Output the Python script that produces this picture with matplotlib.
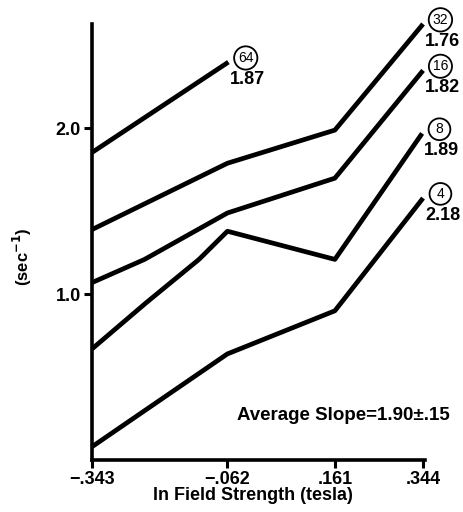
import matplotlib
matplotlib.use("Agg")
import matplotlib.pyplot as plt

plt.rcParams["font.family"] = ["Liberation Sans", "DejaVu Sans"]
plt.rcParams["font.weight"] = "bold"

# x positions (ln field strength, tesla)
x_ticks = [-.343, -.062, .161, .344]
x_tick_labels = ["\u2212.343", "\u2212.062", ".161", ".344"]
y_ticks = [1.0, 2.0]
y_tick_labels = ["1.0", "2.0"]

# one curve per label
x_64 = [-.343, -.060]
y_64 = [1.855, 2.40]
x_32 = [-.343, -.062, .161, .344]
y_32 = [1.39, 1.79, 1.99, 2.63]
x_16 = [-.343, -.234, -.062, .161, .344]
y_16 = [1.07, 1.21, 1.49, 1.70, 2.35]
x_8 = [-.343, -.230, -.121, -.062, .161, .342]
y_8 = [0.67, 0.95, 1.21, 1.38, 1.21, 1.97]
x_4 = [-.343, -.062, .161, .344]
y_4 = [0.08, 0.64, 0.90, 1.58]

circle_labels = ["64", "32", "16", "8", "4"]
slope_labels = ["1.87", "1.76", "1.82", "1.89", "2.18"]
series = [(x_64, y_64), (x_32, y_32), (x_16, y_16), (x_8, y_8), (x_4, y_4)]

fig = plt.figure(figsize=(4.64, 5.12), dpi=100)
ax = fig.add_axes([92 / 464, 52 / 512, 333 / 464, 436 / 512])

for (xs, ys), circ, slope in zip(series, circle_labels, slope_labels):
    ax.plot(xs, ys, color="black", lw=3.4, solid_joinstyle="round",
            solid_capstyle="butt", clip_on=False)
    ax.annotate(circ, (xs[-1], ys[-1]), xytext=(12.5, 3), textcoords="offset points",
                ha="center", va="center", fontsize=10, fontweight="normal",
                bbox=dict(boxstyle="circle,pad=0.28", fc="white", ec="black", lw=1.3))
    ax.annotate(slope, (xs[-1], ys[-1]), xytext=(14, -12.5), textcoords="offset points",
                ha="center", va="center", fontsize=13)

ax.set_xlim(-.343, .348)
ax.set_ylim(0, 2.63)
ax.set_xticks(x_ticks)
ax.set_xticklabels(x_tick_labels)
ax.set_yticks(y_ticks)
ax.set_yticklabels(y_tick_labels)
ax.tick_params(axis="both", length=6, width=2.2, labelsize=13, pad=2)

for side in ["top", "right"]:
    ax.spines[side].set_visible(False)
for side in ["left", "bottom"]:
    ax.spines[side].set_linewidth(2.6)

fig.text(0.739, 0.189, "Average Slope=1.90\u00b1.15", ha="center", va="center", fontsize=13.5)
fig.text(0.545, 0.033, "ln Field Strength (tesla)", ha="center", va="center", fontsize=13)
fig.text(0.048, 0.498, "(sec$^{\\mathbf{-1}}$)", ha="center", va="center", rotation=90, fontsize=12)

fig.savefig("out.png", dpi=100)
